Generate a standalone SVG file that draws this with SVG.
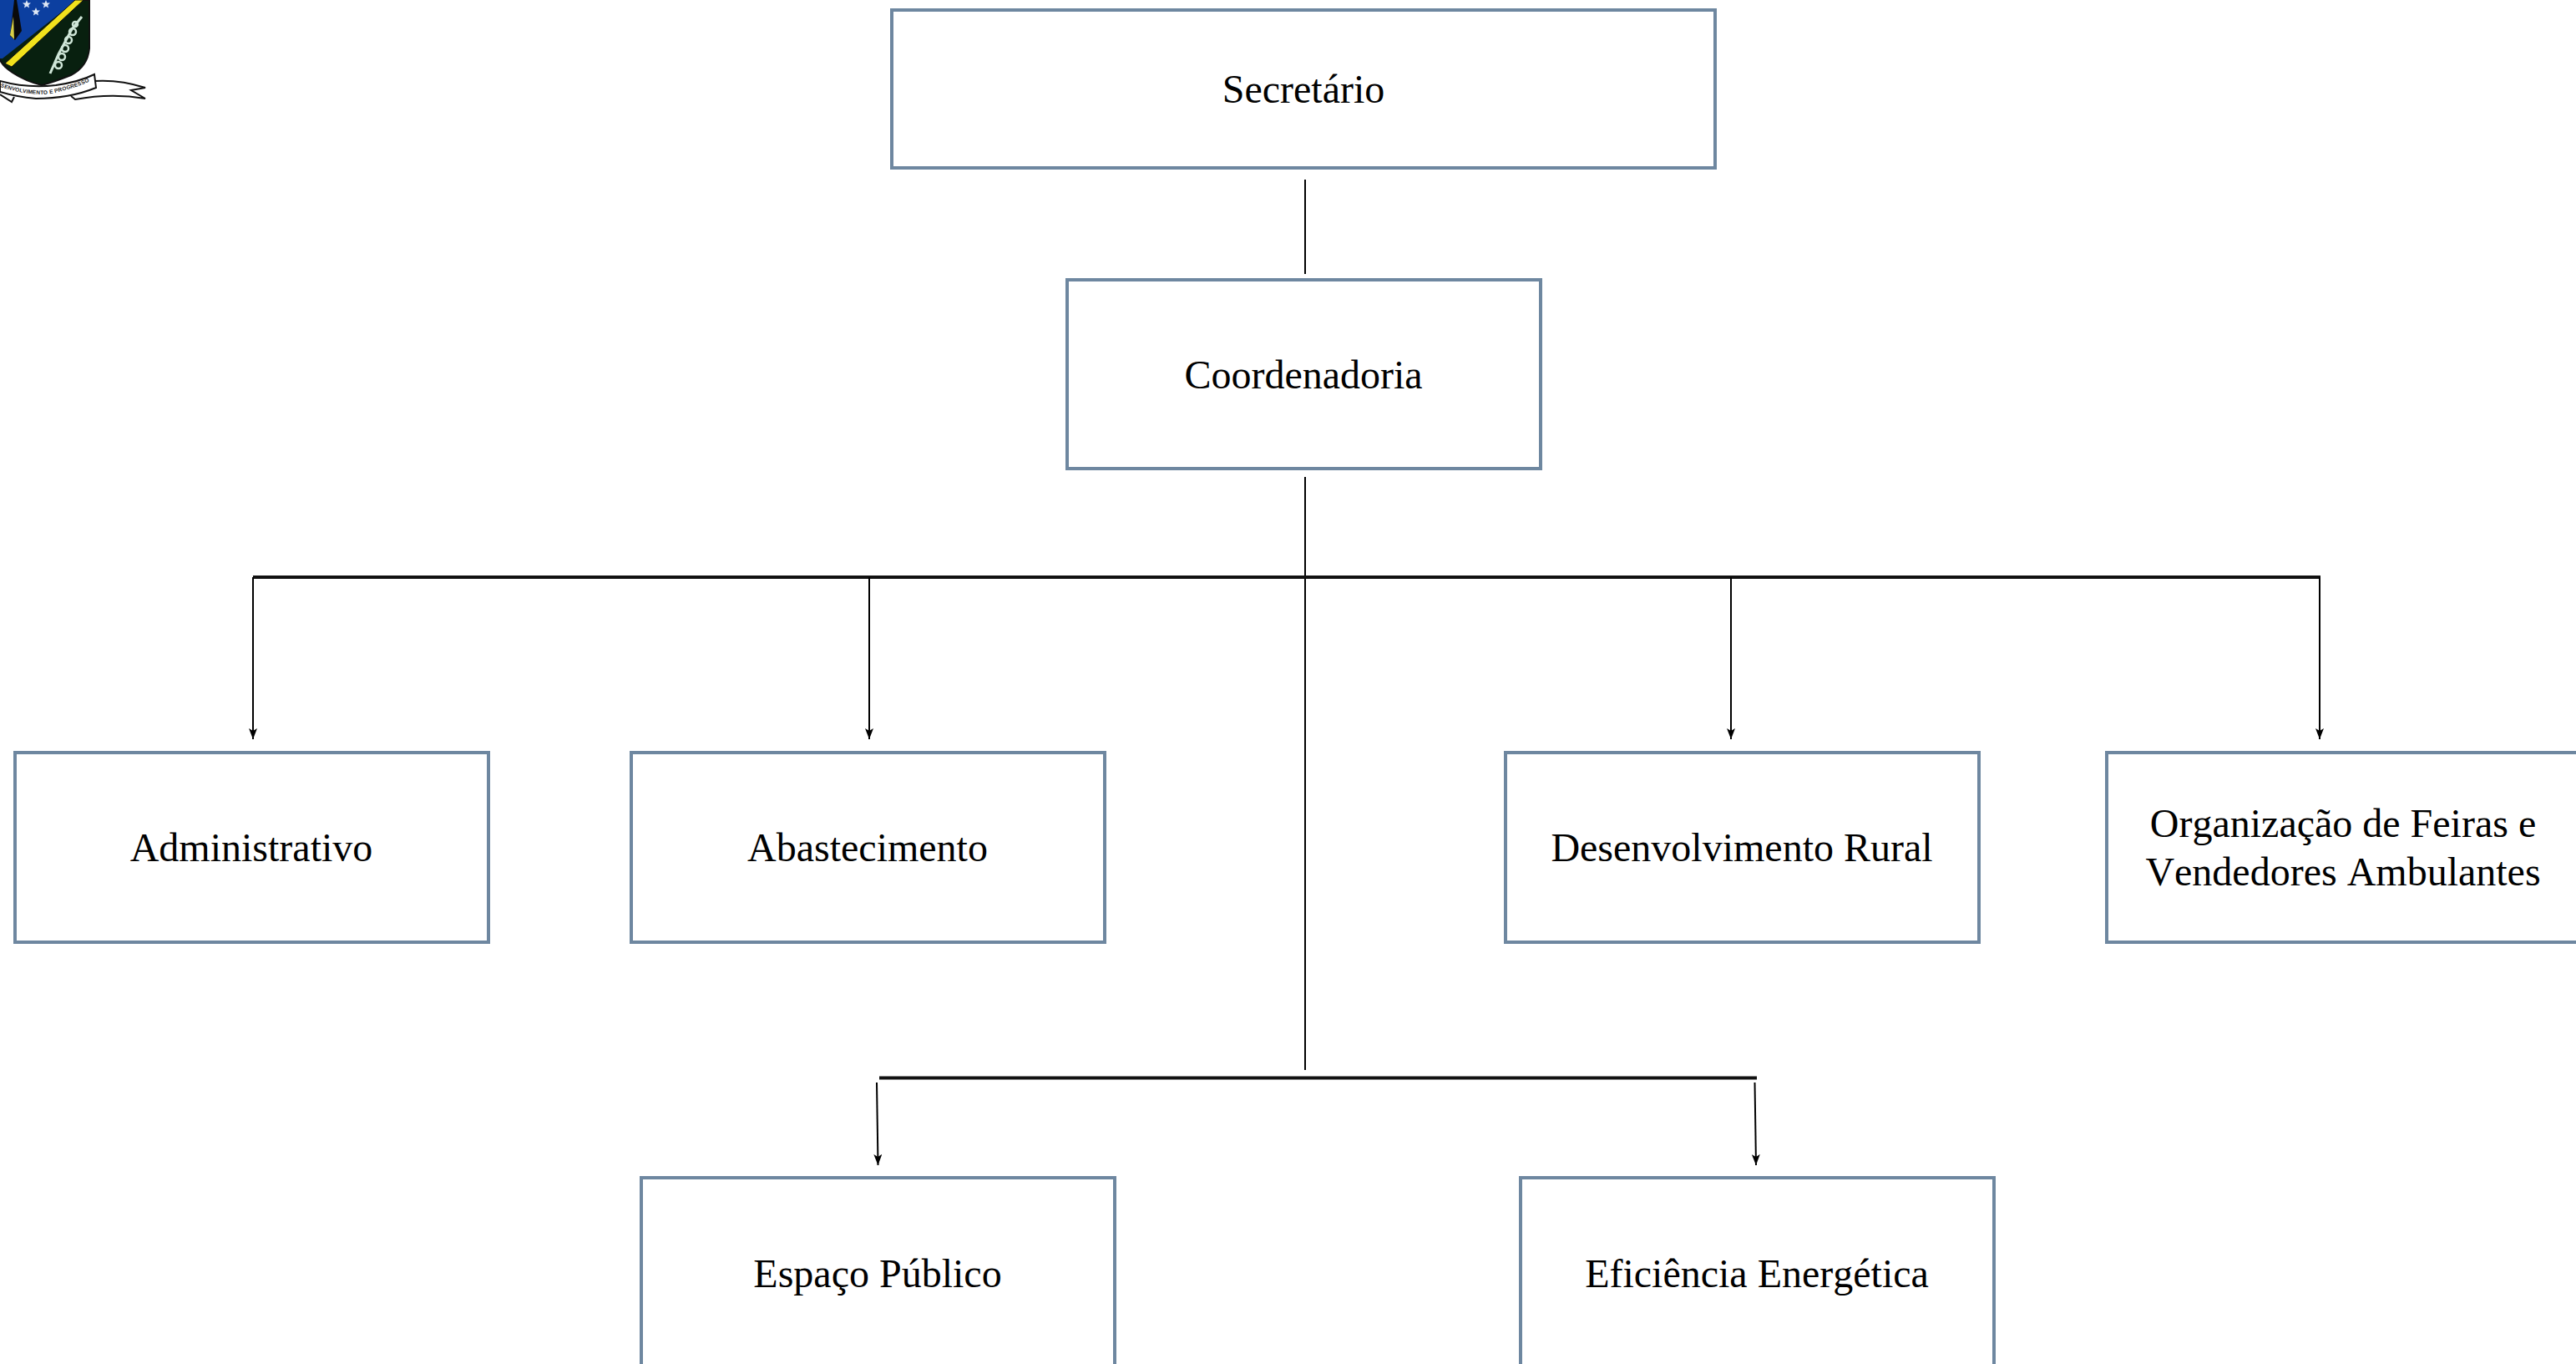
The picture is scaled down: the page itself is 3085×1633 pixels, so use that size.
<svg xmlns="http://www.w3.org/2000/svg" width="3085" height="1633" viewBox="0 0 3085 1633">
<style>
.box{fill:#fff;stroke:#6e87a0;stroke-width:4}
.lbl{font-family:"Liberation Serif","Times New Roman",serif;font-size:48px;fill:#000;text-anchor:middle;font-kerning:none}
.thin{stroke:#000;stroke-width:2;fill:none}
.arrow{stroke:#000;stroke-width:2;fill:none;marker-end:url(#ah)}
.bar{stroke:#111;stroke-width:4;fill:none}
</style>
<defs>
<marker id="ah" markerUnits="userSpaceOnUse" markerWidth="14" markerHeight="10" refX="13" refY="5" orient="auto" viewBox="0 0 14 10"><path d="M0 0 L13 5 L0 10 L3 5 Z" fill="#000"/></marker>
<path id="star" d="M0 -5 L1.400 -1.500 L5 -1.500 L2.200 1 L3 4.500 L0 2.500 L-3 4.500 L-2.200 1 L-5 -1.500 L-1.400 -1.500Z" fill="#dfe8f5"/>
<path id="rib" d="M0 104 Q45 118 70 110 Q95 104 112 95"/>
</defs>
<rect width="3085" height="1633" fill="#fff"/>
<g id="logo">
<path d="M0 72 L0 0 L107 0 L107 58 Q105 80 85 90 Q65 98 50 102 Q30 97 15 87 Q4 80 0 72Z" fill="#08200f" stroke="#111" stroke-width="2"/>
<path d="M0 0 L92 0 L3 70 L0 70Z" fill="#0c3fa0"/>
<path d="M90 0 L100 0 L14 80 L6 76Z" fill="#f2e21c" stroke="#111" stroke-width="1"/>
<path d="M17 0 L20 0 L26 37 L18 48 L12 43Z" fill="#0a0a0a"/>
<path d="M16 20 L12 42 L17 47Z" fill="#d8d048"/>
<use href="#star" x="32" y="5"/><use href="#star" x="55" y="5"/><use href="#star" x="43" y="14"/>
<path d="M60 88 L70 65 L86 35 L98 20" fill="none" stroke="#cfe6d8" stroke-width="3"/>
<g fill="none" stroke="#cfe6d8" stroke-width="2.500"><circle cx="70" cy="78" r="4"/><circle cx="74" cy="68" r="4"/><circle cx="78" cy="58" r="4"/><circle cx="82" cy="48" r="4"/><circle cx="87" cy="38" r="4"/><circle cx="90" cy="29" r="3"/></g>
<path d="M113 97 Q143 95 174 105 L157 108 L174 118 Q133 111 90 119 L85 115" fill="#fff" stroke="#111" stroke-width="2"/>
<path d="M0 97 Q33 106 67 102 Q95 98 113 89 L115 105 Q83 118 43 118 Q20 116 0 110Z" fill="#fff" stroke="#111" stroke-width="2"/>
<path d="M0 113 L14 122 L17 116" fill="none" stroke="#111" stroke-width="2"/>
<text font-family="Liberation Sans,sans-serif" font-size="6.500" font-weight="bold" fill="#222"><textPath href="#rib" textLength="110">SENVOLVIMENTO E PROGRESSO</textPath></text>
</g>
<g id="connectors">
<path class="thin" d="M1563 215V328"/>
<path class="thin" d="M1563 571V1281"/>
<path class="bar" d="M303 691H2779"/>
<path class="arrow" d="M303 691V885"/>
<path class="arrow" d="M1041 691V885"/>
<path class="arrow" d="M2073 691V885"/>
<path class="arrow" d="M2778 691V885"/>
<path class="bar" d="M1053 1290.500H2104"/>
<path class="arrow" d="M1050 1296L1051.500 1395"/>
<path class="arrow" d="M2101.500 1296L2103 1395"/>
</g>
<g id="n-secretario"><rect class="box" x="1068" y="12" width="986" height="189"/><text class="lbl" x="1561" y="123">Secretário</text></g>
<g id="n-coordenadoria"><rect class="box" x="1278" y="335" width="567" height="226"/><text class="lbl" x="1561" y="465">Coordenadoria</text></g>
<g id="n-administrativo"><rect class="box" x="18" y="901" width="567" height="227"/><text class="lbl" x="301" y="1031">Administrativo</text></g>
<g id="n-abastecimento"><rect class="box" x="756" y="901" width="567" height="227"/><text class="lbl" x="1039" y="1031">Abastecimento</text></g>
<g id="n-desenvolvimento"><rect class="box" x="1803" y="901" width="567" height="227"/><text class="lbl" x="2086" y="1031">Desenvolvimento Rural</text></g>
<g id="n-organizacao"><rect class="box" x="2523" y="901" width="567" height="227"/><text class="lbl" x="2806" y="1002">Organização de Feiras e</text><text class="lbl" x="2806" y="1060">Vendedores Ambulantes</text></g>
<g id="n-espaco"><rect class="box" x="768" y="1410" width="567" height="240"/><text class="lbl" x="1051" y="1541">Espaço Público</text></g>
<g id="n-eficiencia"><rect class="box" x="1821" y="1410" width="567" height="240"/><text class="lbl" x="2104" y="1541">Eficiência Energética</text></g>
</svg>
